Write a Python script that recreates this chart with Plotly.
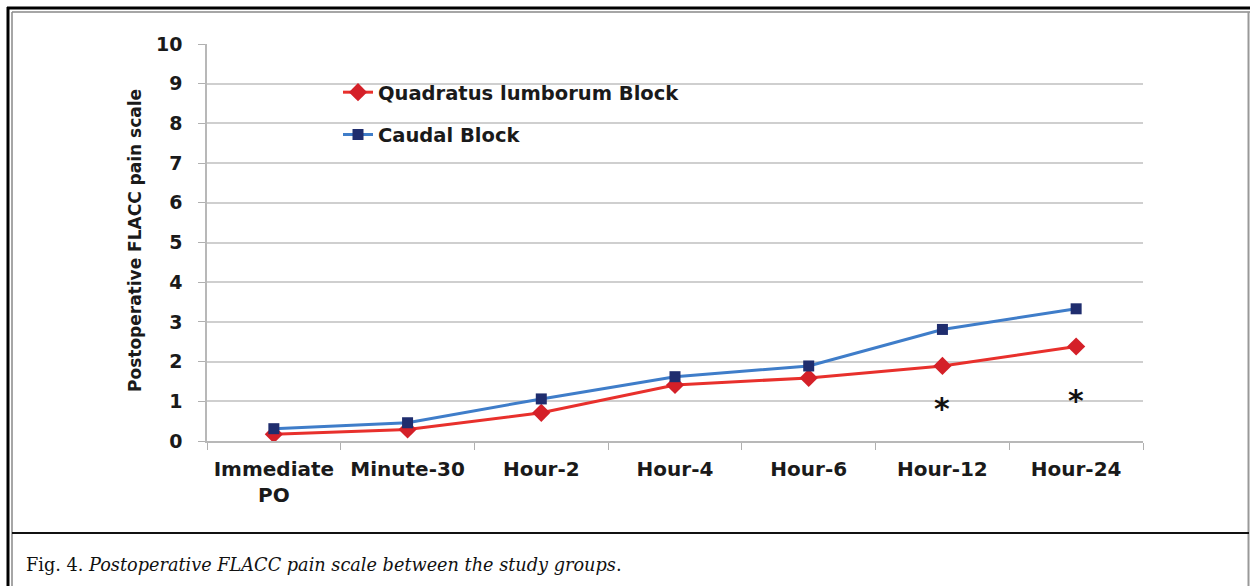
import plotly.graph_objects as go

categories = ["Immediate<br>PO", "Minute-30", "Hour-2", "Hour-4", "Hour-6", "Hour-12", "Hour-24"]
ql_values = [0.17, 0.29, 0.71, 1.41, 1.59, 1.89, 2.38]
caudal_values = [0.31, 0.46, 1.06, 1.62, 1.89, 2.81, 3.33]
y_ticks = [0, 1, 2, 3, 4, 5, 6, 7, 8, 9, 10]
star_categories = ["Hour-12", "Hour-24"]
star_values = [0.98, 1.16]

W, H = 1250, 586
def px(x):
    return x / W
def py(y):
    return 1 - y / H

FONT = "DejaVu Sans"
fig = go.Figure()
fig.add_trace(go.Scatter(
    x=categories, y=ql_values, name="Quadratus lumborum Block", mode="lines+markers",
    line=dict(color="#e8302c", width=3), legendgroup="a",
    marker=dict(symbol="diamond", size=14, color="#d42028")))
fig.add_trace(go.Scatter(
    x=categories, y=caudal_values, name="Caudal Block", mode="lines+markers",
    line=dict(color="#3f7dc9", width=3), legendgroup="b",
    marker=dict(symbol="square", size=11, color="#1f2d6e")))

for c, v in zip(star_categories, star_values):
    fig.add_annotation(x=c, y=v, text="*", showarrow=False,
                       font=dict(size=30, color="#111", family="DejaVu Sans", weight="bold"), yshift=-6)

fig.update_layout(
    width=W, height=H, margin=dict(l=0, r=0, t=0, b=0, autoexpand=False),
    paper_bgcolor="white", plot_bgcolor="white",
    font=dict(family=FONT, color="#222"),
    showlegend=True,
    legend=dict(x=px(338), y=py(73), xanchor="left", yanchor="top",
                font=dict(size=19.5, family=FONT, weight="bold", color="#1a1a1a"),
                bgcolor="rgba(0,0,0,0)", traceorder="grouped", tracegroupgap=14,
                itemwidth=30),
    xaxis=dict(domain=[px(207), px(1143)], type="category", range=[-0.5, 6.5],
               tickson="boundaries",
               ticks="outside", ticklen=7, tickcolor="#b0b0b0", showgrid=False,
               showline=True, linecolor="#b8b8b8", linewidth=2,
               tickfont=dict(size=20, family=FONT, weight="bold", color="#1a1a1a"),
               ticklabelstandoff=9),
    yaxis=dict(domain=[py(441), py(44)], range=[0, 10], tickvals=y_ticks,
               ticks="outside", ticklen=7, tickcolor="#b0b0b0",
               showgrid=True, gridcolor="#cfcfcf", gridwidth=1.5,
               showline=True, linecolor="#b8b8b8", linewidth=1.5, zeroline=False,
               tickfont=dict(size=19, family=FONT, weight="bold", color="#1a1a1a"),
               ticklabelstandoff=12),
)

fig.add_annotation(xref="paper", yref="paper", x=px(135), y=py(241),
                   xanchor="center", yanchor="middle",
                   text="Postoperative FLACC pain scale", textangle=-90, showarrow=False,
                   font=dict(size=17, family=FONT, weight="bold", color="#1a1a1a"))

fig.add_annotation(xref="paper", yref="paper", x=px(24), y=py(565),
                   xanchor="left", yanchor="middle",
                   text="Fig. 4. <i>Postoperative FLACC pain scale between the study groups</i>.",
                   showarrow=False,
                   font=dict(size=17.7, family="DejaVu Serif", color="#111"))

# frame lines
shapes = [
    dict(x0=px(8), x1=px(8), y0=py(7), y1=py(586), line=dict(color="black", width=3)),
    dict(x0=px(7), x1=px(1250), y0=py(8), y1=py(8), line=dict(color="black", width=3)),
    dict(x0=px(12), x1=px(12), y0=py(12), y1=py(586), line=dict(color="#888", width=1.5)),
    dict(x0=px(12), x1=px(1250), y0=py(12), y1=py(12), line=dict(color="#888", width=1.5)),
    dict(x0=px(1248.5), x1=px(1248.5), y0=py(12), y1=py(586), line=dict(color="#999", width=2)),
    dict(x0=px(12), x1=px(1249), y0=py(533), y1=py(533), line=dict(color="#111", width=2)),
]
for s in shapes:
    fig.add_shape(type="line", xref="paper", yref="paper", **s)

fig.write_html("out.html", config={"displayModeBar": False},
               post_script="document.body.style.margin='0';document.body.style.overflow='hidden';")
